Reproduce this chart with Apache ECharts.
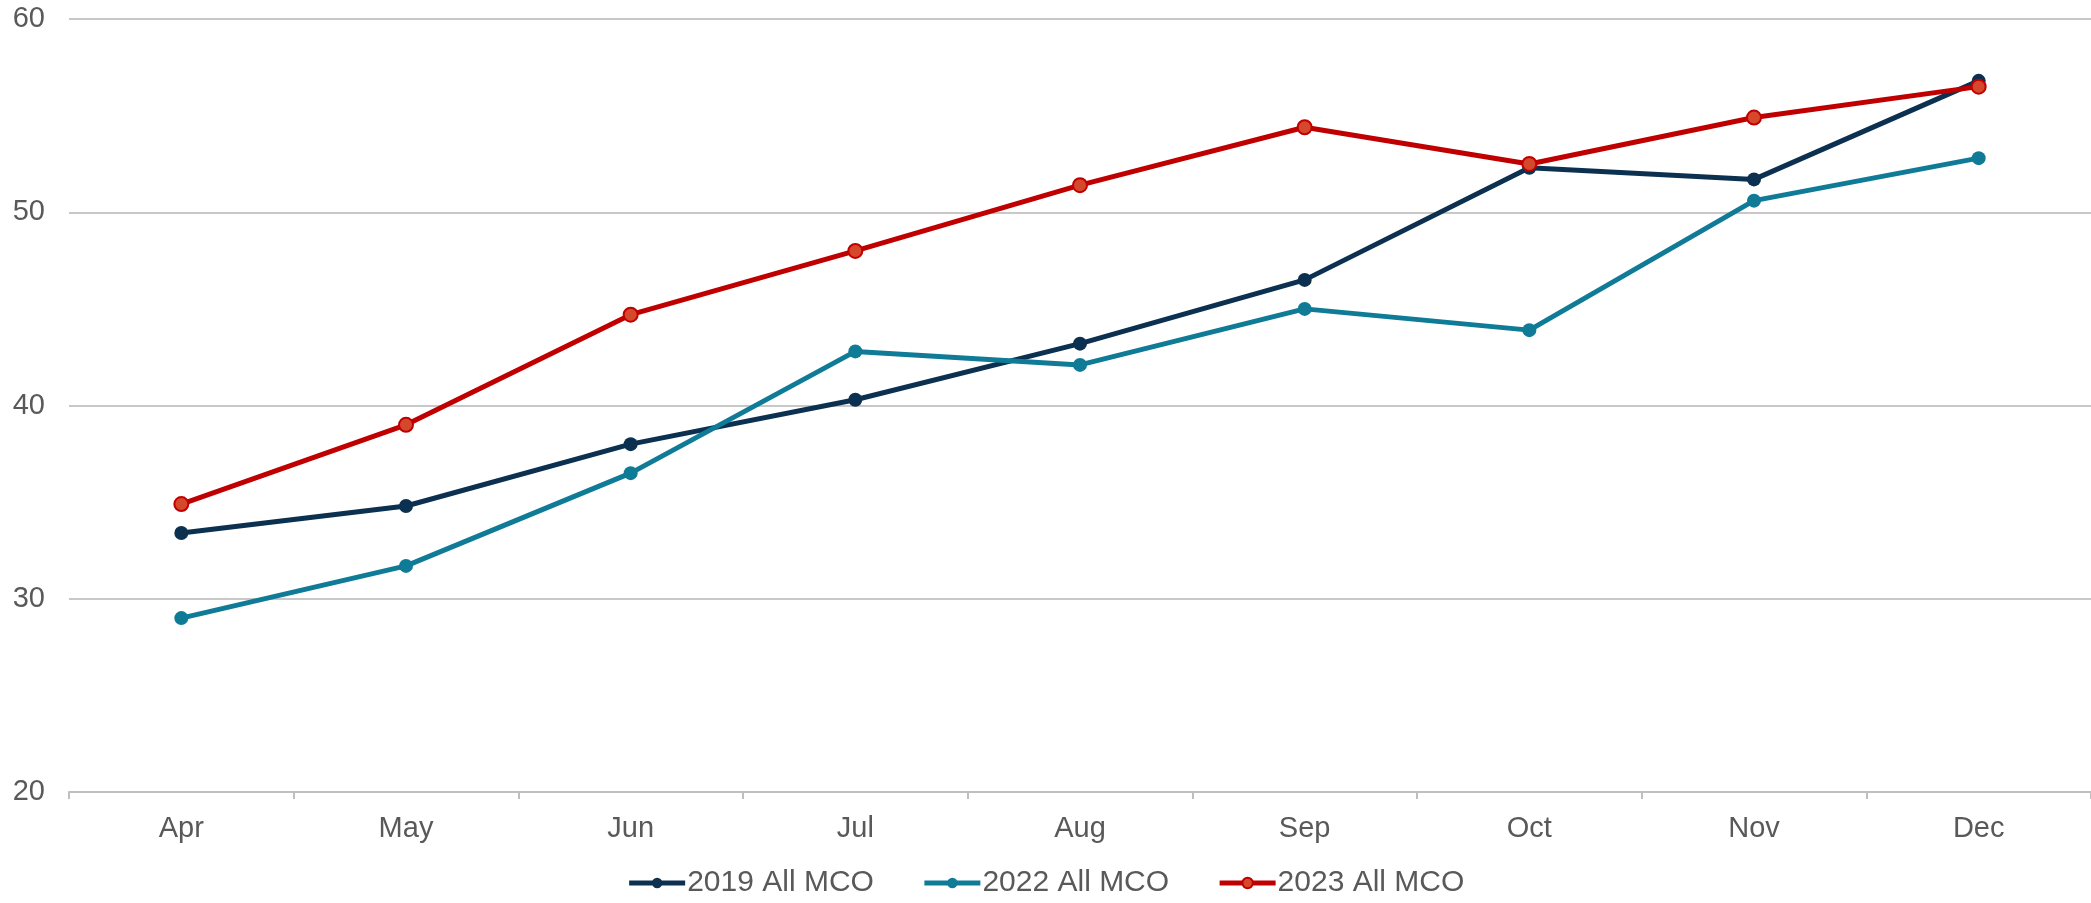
<!DOCTYPE html>
<html lang="en">
<head>
<meta charset="UTF-8">
<title>MCO by month</title>
<script src="https://cdn.jsdelivr.net/npm/echarts@6/dist/echarts.min.js"></script>
<style>
  html, body { margin: 0; padding: 0; background: #fff; }
  #main { width: 2091px; height: 903px; }
</style>
</head>
<body>
<div id="main"></div>
<script type="text/javascript">
  var months = ['Apr', 'May', 'Jun', 'Jul', 'Aug', 'Sep', 'Oct', 'Nov', 'Dec'];
  var mco2019 = [33.4, 34.8, 38.0, 40.3, 43.2, 46.5, 52.3, 51.7, 56.8];
  var mco2022 = [29.0, 31.7, 36.5, 42.8, 42.1, 45.0, 43.9, 50.6, 52.8];
  var mco2023 = [34.9, 39.0, 44.7, 48.0, 51.4, 54.4, 52.5, 54.9, 56.5];
  var yTicks = [20, 30, 40, 50, 60];

  var chart = echarts.init(document.getElementById('main'));

  function lineSeries(name, data, color, fill) {
    return {
      name: name,
      type: 'line',
      data: data,
      symbol: 'circle',
      symbolSize: 14,
      lineStyle: { color: color, width: 5 },
      itemStyle: { color: fill || color, borderColor: color, borderWidth: fill ? 2 : 0 },
      emphasis: { disabled: true }
    };
  }

  var option = {
    animation: false,
    textStyle: { fontFamily: 'Liberation Sans, Arial, sans-serif' },
    grid: { left: 69, right: 0, top: 19, bottom: 111 },
    legend: {
      bottom: 0,
      left: 'center',
      itemWidth: 56,
      itemHeight: 13,
      itemGap: 48,
      lineStyle: { width: 5 },
      textStyle: { color: '#595959', fontSize: 30, padding: [0, 0, 0, -3] },
      data: ['2019 All MCO', '2022 All MCO', '2023 All MCO']
    },
    xAxis: {
      type: 'category',
      data: months,
      boundaryGap: true,
      axisLine: { lineStyle: { color: '#bfbfbf', width: 2 } },
      axisTick: { show: true, length: 7, lineStyle: { color: '#bfbfbf', width: 2 } },
      axisLabel: { color: '#595959', fontSize: 29, margin: 22 }
    },
    yAxis: {
      type: 'value',
      min: yTicks[0],
      max: yTicks[yTicks.length - 1],
      interval: 10,
      axisLine: { show: false },
      axisTick: { show: false },
      axisLabel: { color: '#595959', fontSize: 29, margin: 24 },
      splitLine: { lineStyle: { color: '#c8c8c8', width: 2 } }
    },
    series: [
      lineSeries('2019 All MCO', mco2019, '#0c3050'),
      lineSeries('2022 All MCO', mco2022, '#0f7b97'),
      lineSeries('2023 All MCO', mco2023, '#c00000', '#d5482c')
    ]
  };

  chart.setOption(option);
</script>
</body>
</html>
